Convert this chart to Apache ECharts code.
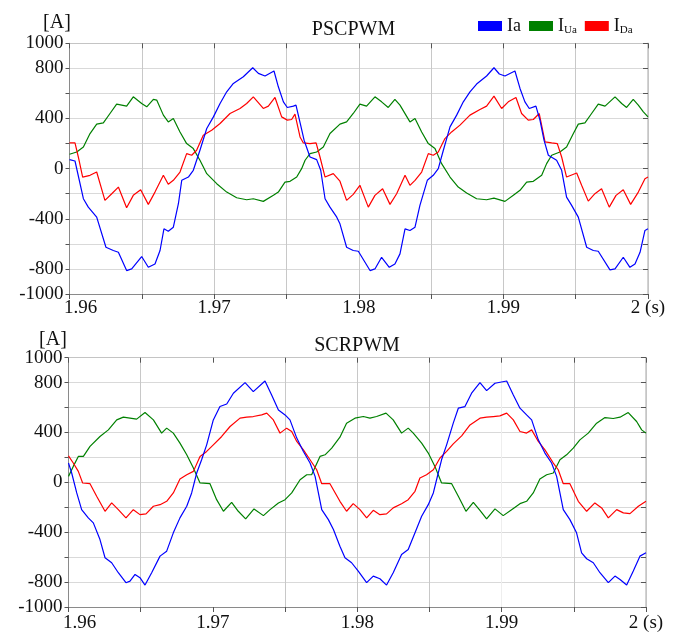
<!DOCTYPE html>
<html><head><meta charset="utf-8">
<script src="https://cdn.jsdelivr.net/npm/echarts@6/dist/echarts.min.js"></script>
<style>html,body{margin:0;padding:0;background:#fff}#c{width:682px;height:633px}</style>
</head><body><div id="c"></div>
<script>
// ---------- data (time [s], current [A]) ----------
const pscIa = [[1.96,72],[1.96038,61],[1.96096,-240],[1.9613,-307],[1.96188,-387],[1.96252,-627],[1.96303,-653],[1.96338,-667],[1.96395,-813],[1.9643,-800],[1.96499,-701],[1.96545,-787],[1.96591,-760],[1.96626,-653],[1.96653,-480],[1.96683,-499],[1.96718,-467],[1.96753,-280],[1.96776,-93],[1.96822,-67],[1.96856,-13],[1.96902,147],[1.96949,320],[1.96995,413],[1.97041,520],[1.97087,613],[1.97133,680],[1.97202,733],[1.97267,805],[1.97306,760],[1.97352,739],[1.97414,779],[1.97444,653],[1.97479,533],[1.97506,488],[1.97548,499],[1.97566,507],[1.97601,333],[1.97622,227],[1.97663,93],[1.97709,72],[1.97737,-13],[1.97767,-240],[1.97801,-307],[1.97848,-387],[1.9787,-440],[1.97916,-627],[1.97962,-653],[1.97997,-659],[1.98078,-813],[1.98112,-800],[1.98158,-707],[1.98211,-787],[1.9825,-760],[1.98285,-680],[1.9832,-480],[1.98354,-493],[1.98389,-467],[1.98423,-293],[1.98474,-93],[1.98515,-53],[1.9855,0],[1.98585,147],[1.98631,333],[1.98677,427],[1.98723,533],[1.98769,613],[1.98815,675],[1.98884,739],[1.98935,805],[1.98972,755],[1.99011,739],[1.9908,779],[1.99115,640],[1.99149,533],[1.99179,480],[1.99225,499],[1.99253,387],[1.99281,227],[1.99311,107],[1.99368,67],[1.99403,-13],[1.99437,-227],[1.99472,-293],[1.99518,-387],[1.99576,-627],[1.99622,-653],[1.99656,-659],[1.99737,-808],[1.99772,-800],[1.99829,-707],[1.99875,-787],[1.9991,-760],[1.99945,-667],[1.99979,-493],[2,-480]];
const pscIUa = [[1.96,115],[1.9605,133],[1.96096,173],[1.96142,280],[1.96188,355],[1.96234,365],[1.9628,440],[1.96326,515],[1.96361,507],[1.96395,499],[1.96441,573],[1.96499,520],[1.96534,493],[1.9658,552],[1.96603,547],[1.96649,427],[1.96683,373],[1.96718,400],[1.96764,293],[1.9681,200],[1.96856,160],[1.96902,67],[1.96949,-40],[1.97018,-120],[1.97087,-187],[1.97156,-232],[1.97225,-248],[1.97271,-240],[1.9734,-261],[1.9741,-213],[1.97444,-187],[1.9749,-107],[1.97525,-101],[1.97571,-67],[1.97605,0],[1.97629,67],[1.97663,120],[1.97709,133],[1.97755,173],[1.97801,280],[1.9787,355],[1.97916,373],[1.97962,440],[1.98008,515],[1.98054,499],[1.98112,573],[1.98158,533],[1.98204,488],[1.9825,552],[1.98285,507],[1.98354,373],[1.98389,400],[1.98435,293],[1.98481,200],[1.98527,160],[1.98573,40],[1.98631,-67],[1.98688,-147],[1.98746,-195],[1.98815,-240],[1.98884,-248],[1.98935,-235],[1.99011,-261],[1.99069,-213],[1.99115,-173],[1.99161,-107],[1.99207,-101],[1.99265,-53],[1.99299,40],[1.99334,107],[1.99391,133],[1.99437,173],[1.99484,280],[1.99518,355],[1.99564,365],[1.9961,440],[1.99656,515],[1.99703,499],[1.99772,573],[1.99818,520],[1.99852,488],[1.99898,552],[1.99933,507],[1.99968,453],[2,413]];
const pscIDa = [[1.96,205],[1.96038,205],[1.96061,93],[1.96091,-67],[1.96142,-53],[1.96188,-27],[1.96245,-253],[1.96292,-200],[1.96338,-147],[1.96395,-312],[1.96441,-213],[1.96492,-168],[1.96545,-285],[1.96591,-187],[1.96649,-53],[1.96683,-125],[1.96718,-93],[1.96764,-27],[1.9681,120],[1.96845,107],[1.96879,147],[1.96925,267],[1.96983,307],[1.97041,360],[1.9711,440],[1.97179,480],[1.97225,520],[1.97271,573],[1.9734,480],[1.97375,499],[1.97421,568],[1.97467,413],[1.97506,387],[1.97536,392],[1.97559,435],[1.97594,253],[1.97617,205],[1.97663,200],[1.97705,205],[1.97732,93],[1.97767,-67],[1.97824,-40],[1.9787,-100],[1.97916,-253],[1.97962,-205],[1.98008,-133],[1.98066,-307],[1.98112,-213],[1.98165,-160],[1.98216,-285],[1.98262,-200],[1.9832,-53],[1.98354,-133],[1.98389,-93],[1.98435,-27],[1.98481,120],[1.98515,107],[1.9855,133],[1.98596,240],[1.98642,293],[1.987,347],[1.98769,427],[1.98838,472],[1.98884,499],[1.98935,579],[1.98988,480],[1.99034,533],[1.99087,568],[1.99126,440],[1.99172,387],[1.99207,392],[1.99248,440],[1.99288,213],[1.99334,205],[1.99373,200],[1.99403,93],[1.99437,-67],[1.99507,-35],[1.99541,-133],[1.99587,-259],[1.99633,-200],[1.99679,-160],[1.99732,-307],[1.99779,-213],[1.99829,-168],[1.9988,-285],[1.99933,-187],[1.99979,-80],[2,-67]];

const scrIa = [[1.96,155],[1.96022,75],[1.96057,-85],[1.96091,-219],[1.96137,-285],[1.96172,-325],[1.96218,-459],[1.96253,-605],[1.96299,-645],[1.96345,-725],[1.96398,-805],[1.96426,-792],[1.96461,-739],[1.96495,-765],[1.9653,-824],[1.96576,-725],[1.96634,-592],[1.9668,-552],[1.96726,-405],[1.96772,-285],[1.96819,-192],[1.96853,-85],[1.96888,75],[1.96922,181],[1.96957,301],[1.97003,501],[1.97049,608],[1.97096,629],[1.97142,715],[1.97223,800],[1.9728,728],[1.97361,813],[1.97407,701],[1.97454,581],[1.975,541],[1.97534,501],[1.97581,355],[1.97627,248],[1.97673,155],[1.97708,48],[1.97754,-219],[1.978,-299],[1.97835,-379],[1.9788,-512],[1.97915,-605],[1.97961,-645],[1.98007,-712],[1.98065,-805],[1.98111,-752],[1.98157,-773],[1.98203,-824],[1.98249,-725],[1.98307,-579],[1.98353,-539],[1.984,-405],[1.98446,-272],[1.98492,-179],[1.98527,-85],[1.98561,75],[1.98584,181],[1.98619,301],[1.98665,475],[1.987,595],[1.98746,608],[1.98792,715],[1.9885,800],[1.98896,736],[1.98954,795],[1.99035,813],[1.99081,701],[1.99127,595],[1.99173,541],[1.99208,501],[1.99254,341],[1.993,235],[1.99346,155],[1.99381,48],[1.99427,-219],[1.99473,-299],[1.99519,-405],[1.99554,-565],[1.99589,-613],[1.99635,-645],[1.99681,-725],[1.99739,-805],[1.99785,-752],[1.9982,-779],[1.99866,-824],[1.99912,-712],[1.99958,-592],[2,-565]];
const scrIUa = [[1.96,48],[1.96033,128],[1.96068,208],[1.96103,208],[1.96149,288],[1.96218,368],[1.96276,421],[1.96334,501],[1.9638,523],[1.96426,515],[1.96472,507],[1.9653,560],[1.96588,501],[1.96645,395],[1.9668,435],[1.96726,395],[1.96772,315],[1.96819,221],[1.96865,115],[1.96911,-5],[1.9698,-11],[1.97026,-139],[1.97073,-232],[1.9713,-160],[1.97176,-232],[1.97227,-293],[1.97285,-213],[1.9735,-267],[1.97396,-219],[1.97454,-165],[1.975,-139],[1.97546,-85],[1.97604,21],[1.9765,61],[1.97684,61],[1.97742,208],[1.97777,221],[1.97823,275],[1.9788,362],[1.97926,475],[1.97984,515],[1.98042,528],[1.98088,515],[1.98134,528],[1.98199,555],[1.98249,501],[1.98307,395],[1.98353,435],[1.98388,395],[1.98446,315],[1.98492,235],[1.98538,128],[1.98584,-5],[1.98654,-11],[1.987,-112],[1.98753,-232],[1.98804,-160],[1.9885,-224],[1.98896,-293],[1.98954,-213],[1.99011,-267],[1.99069,-219],[1.99127,-171],[1.99173,-152],[1.99219,-85],[1.99265,27],[1.99312,61],[1.99358,75],[1.99404,181],[1.9945,221],[1.99496,275],[1.99542,341],[1.996,395],[1.99658,475],[1.99716,520],[1.99773,512],[1.9982,523],[1.99877,560],[1.99935,488],[1.9997,421],[2,395]];
const scrIDa = [[1.96,213],[1.96033,155],[1.96068,88],[1.96098,-5],[1.96149,-11],[1.96195,-112],[1.96253,-232],[1.96299,-165],[1.96345,-219],[1.96398,-285],[1.96449,-219],[1.96495,-259],[1.96537,-253],[1.96588,-192],[1.96634,-179],[1.9668,-152],[1.96726,-85],[1.96772,27],[1.96819,61],[1.96865,88],[1.96911,208],[1.96957,248],[1.97003,301],[1.97061,368],[1.97119,448],[1.97188,515],[1.97234,523],[1.9728,528],[1.97338,541],[1.97373,555],[1.97419,501],[1.97465,395],[1.97511,435],[1.97546,408],[1.97581,328],[1.97627,261],[1.97673,181],[1.97719,101],[1.97754,-11],[1.97811,-11],[1.9788,-152],[1.97926,-232],[1.97972,-171],[1.98019,-219],[1.98065,-285],[1.98111,-224],[1.98157,-259],[1.98203,-253],[1.98249,-205],[1.98307,-171],[1.98353,-139],[1.984,-72],[1.98434,35],[1.9848,61],[1.98527,101],[1.98573,195],[1.98619,248],[1.98665,309],[1.98723,373],[1.98781,461],[1.9885,515],[1.98896,523],[1.98942,528],[1.98988,533],[1.99035,555],[1.99081,501],[1.99127,408],[1.99173,395],[1.99208,421],[1.99254,328],[1.993,261],[1.99358,155],[1.99392,101],[1.99427,-11],[1.99473,-11],[1.99531,-152],[1.99589,-232],[1.99646,-165],[1.99693,-205],[1.99739,-285],[1.99797,-219],[1.99843,-245],[1.99889,-251],[1.99947,-192],[2,-152]];

const seriesNames = ['Ia', 'IUa', 'IDa'];
const panelTitles = ['PSCPWM', 'SCRPWM'];
const xTickLabels = {1960: '1.96', 1970: '1.97', 1980: '1.98', 1990: '1.99', 2000: '2 (s)'};
const yTickLabels = [1000, 800, 400, 0, -400, -800, -1000];
const unitLabel = '[A]';

// ---------- chart ----------
const FONT = 'Liberation Serif';
const COLORS = ['#0000ff', '#008000', '#ff0000'];
const chart = echarts.init(document.getElementById('c'), null, {renderer: 'canvas'});

function xLabel(v) {
  const k = Math.round(v * 1000);
  if (!(k in xTickLabels)) return '';
  return k === 1960 ? '{first|' + xTickLabels[k] + '}' : xTickLabels[k];
}
function yLabel(v) {
  const r = Math.round(v);
  return yTickLabels.includes(r) ? String(r) : '';
}

const grids = [
  {left: 69.5, top: 43.3, width: 578.5, height: 250.7},
  {left: 68.5, top: 357.7, width: 577.5, height: 250}
];
const CLEAR = 'rgba(0,0,0,0)';
const vGridColors = [
  ['#c8c8c8'],
  ['#c8c8c8', '#c8c8c8', CLEAR, '#c8c8c8', '#c8c8c8', '#c8c8c8', '#eeeeee', '#c8c8c8', '#c8c8c8']
];

const xAxes = [], yAxes = [];
grids.forEach((g, i) => {
  xAxes.push({
    type: 'value', gridIndex: i, min: 1.96, max: 2, interval: 0.005, position: 'bottom',
    axisLine: {show: true, onZero: false, lineStyle: {color: '#8a8a8a', width: 1}},
    axisTick: {show: true, inside: false, length: 5, lineStyle: {color: '#555'}},
    splitLine: {show: true, lineStyle: {color: vGridColors[i], width: 1}},
    axisLabel: {
      show: true, formatter: xLabel, margin: i === 0 ? 5 : 7,
      fontFamily: FONT, fontSize: 19, color: '#111',
      rich: {first: {fontFamily: FONT, fontSize: 19, color: '#111', padding: [0, 0, 0, 22]}}
    }
  });
  xAxes.push({
    type: 'value', gridIndex: i, min: 1.96, max: 2, interval: 0.005, position: 'top',
    axisLine: {show: true, onZero: false, lineStyle: {color: '#c4c4c4'}},
    axisTick: {show: true, inside: true, length: 5, lineStyle: {color: '#555'}},
    splitLine: {show: false}, axisLabel: {show: false}
  });
  yAxes.push({
    type: 'value', gridIndex: i, min: -1000, max: 1000, interval: 200, position: 'left',
    axisLine: {show: true, onZero: false, lineStyle: {color: '#8a8a8a'}},
    axisTick: {show: true, inside: false, length: 4, lineStyle: {color: '#555'}},
    splitLine: {show: true, lineStyle: {color: '#d9d9d9', width: 1.2}},
    axisLabel: {show: true, formatter: yLabel, margin: 6, fontFamily: FONT, fontSize: 19, color: '#111'}
  });
  yAxes.push({
    type: 'value', gridIndex: i, min: -1000, max: 1000, interval: 200, position: 'right',
    axisLine: {show: true, onZero: false, lineStyle: {color: '#c4c4c4', width: 1.5}},
    axisTick: {show: true, inside: true, length: 5, lineStyle: {color: '#555'}},
    splitLine: {show: false}, axisLabel: {show: false}
  });
});

const panels = [[pscIa, pscIUa, pscIDa], [scrIa, scrIUa, scrIDa]];
const series = [];
panels.forEach((set, p) => {
  [1, 2, 0].forEach(j => {
    series.push({
      name: seriesNames[j], type: 'line', data: set[j],
      xAxisIndex: p * 2, yAxisIndex: p * 2,
      showSymbol: false, symbol: 'none', smooth: false,
      lineStyle: {color: COLORS[j], width: 1.2}, itemStyle: {color: COLORS[j]},
      z: 3
    });
  });
});

const legendText = {Ia: '{m|Ia}', IUa: '{m|I}{s|Ua}', IDa: '{m|I}{s|Da}'};

chart.setOption({
  animation: false,
  backgroundColor: '#fff',
  grid: grids,
  xAxis: xAxes,
  yAxis: yAxes,
  legend: {
    data: seriesNames, left: 478, top: 17, padding: 0,
    itemWidth: 24, itemHeight: 10, itemGap: 8,
    icon: 'rect', selectedMode: false,
    formatter: n => legendText[n],
    textStyle: {
      fontFamily: FONT, fontSize: 18, color: '#111',
      rich: {
        m: {fontFamily: FONT, fontSize: 18, color: '#111', lineHeight: 20},
        s: {fontFamily: FONT, fontSize: 11, color: '#111', verticalAlign: 'bottom', lineHeight: 20, padding: [7, 0, 0, 0]}
      }
    }
  },
  graphic: [
    {type: 'text', x: 353.5, y: 29.5, style: {text: panelTitles[0], font: '20px "Liberation Serif"', fill: '#111', textAlign: 'center', textVerticalAlign: 'middle'}},
    {type: 'text', x: 357, y: 346, style: {text: panelTitles[1], font: '20px "Liberation Serif"', fill: '#111', textAlign: 'center', textVerticalAlign: 'middle'}},
    {type: 'text', x: 57, y: 23, style: {text: unitLabel, font: '20px "Liberation Serif"', fill: '#111', textAlign: 'center', textVerticalAlign: 'middle'}},
    {type: 'text', x: 53, y: 340, style: {text: unitLabel, font: '20px "Liberation Serif"', fill: '#111', textAlign: 'center', textVerticalAlign: 'middle'}}
  ],
  series: series
});
</script>
</body></html>
